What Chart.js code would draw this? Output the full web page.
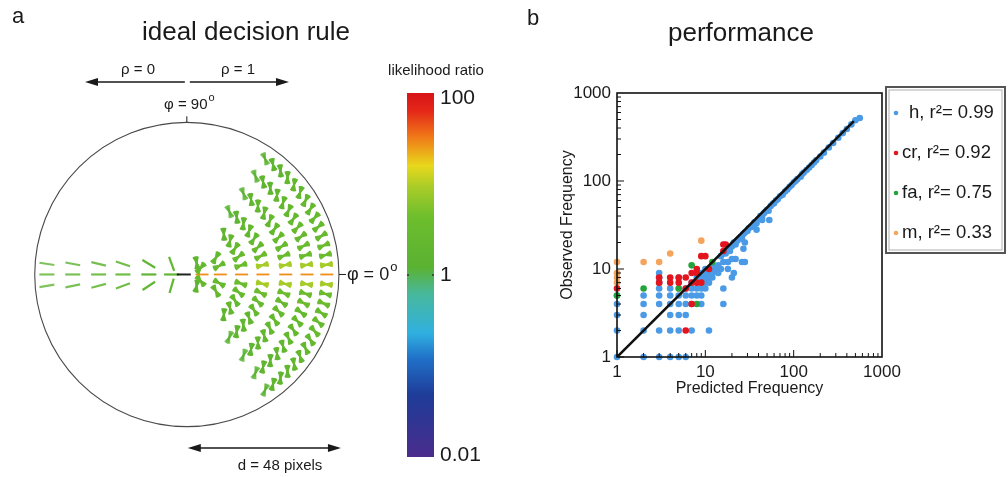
<!DOCTYPE html>
<html>
<head>
<meta charset="utf-8">
<script src="https://cdn.jsdelivr.net/npm/chart.js@4.4.1/dist/chart.umd.min.js"></script>
<style>
  html, body { margin: 0; padding: 0; background: #fff; }
  body { width: 1008px; height: 477px; position: relative; overflow: hidden; }
  #ruleChart { position: absolute; left: 0; top: 0; }
  #perfChart { position: absolute; left: 520px; top: 0; }
</style>
</head>
<body>
<canvas id="ruleChart" width="520" height="477"></canvas>
<canvas id="perfChart" width="488" height="477"></canvas>
<script>
const FONT = '"Liberation Sans", Arial, sans-serif';

// ---- panel a: ideal decision rule (distances in units of the circle radius) ----
const rightRingD = [0.10, 0.22, 0.36, 0.50, 0.65, 0.79, 0.92];
const rightRingStep = [25, 15, 9.5, 7, 5.5, 4.6, 4];   // degrees between bins
const rightRingSpan = [50, 40, 50, 56, 58, 58, 58];   // max |phi| in degrees
const phiBins = [0, 3, 8, 15, 25, 35, 45, 55];
const phiRatio = [28, 9, 3.5, 2.8, 2.5, 2.2, 1.8, 1.3];
const fanOffsets = [-22, -11, 0, 11, 22];             // orientation offsets around co-circular
const leftRingD = [0.10, 0.25, 0.42, 0.58, 0.75, 0.92];
const leftRowY = [-0.075, 0, 0.07];
const leftRatio = [2, 1.7, 1.55, 1.5, 1.45, 1.4];
const referenceEdge = [{ x: -0.02, y: 0 }];
const colorbarTicks = ['100', '1', '0.01'];

// colormap (jet-like), t = 0 at 0.01 .. 1 at 100
const cmapStops = [0, 0.17, 0.27, 0.34, 0.45, 0.52, 0.66, 0.74, 0.80, 0.88, 0.95, 1];
const cmapColors = [[74,44,140],[30,60,152],[32,112,200],[48,176,224],[72,184,154],[90,178,50],
                    [110,190,45],[168,204,40],[232,216,28],[240,120,24],[228,40,24],[216,20,24]];

// ---- panel b: performance ----
const decadeTicks = [1, 10, 100, 1000];
const hX = [1,2,3,4,5,6, 1,2,3,4,5,7,11, 1,2,4,5,6, 1,2,3,4,5,6,7,9,16, 1,2,3,4,5,6,7,8,9,
            3,4,6,7,8,9,10,16, 3,7,8,9,10,11, 3,5,8,9,10,11,12,20, 3,9,10,11,12,14,21,
            10,11,12,13,15,18, 12,14,16,18,20,22,26,28, 28,27,44,53,38,
            15,16,17,18,19,20,21,22,23,24,25,26,27,28,30,31,33,35,36,38,40,42,44,46,48,50,52,55,58,60,
            63,66,70,75,80,85,90,95,100,105,110,120,125,130,140,150,160,170,180,200,220,250,280,320,
            360,400,450,500,560];
const hY = [1,1,1,1,1,1, 2,2,2,2,2,2,2, 3,3,3,3,3, 4,4,4,4,4,4,4,4,4, 5,5,5,5,5,5,5,5,5,
            6,6,6,6,6,6,6,6, 7,7,7,7,7,7, 8,8,8,8,8,8,8,8, 9,9,9,9,9,9,9,
            10,10,10,10,10,10, 11,11,12,12,13,13,12,12, 20,17,36,36,28,
            14,15,15,17,16,18,20,19,21,22,23,22,25,26,27,29,30,31,34,33,37,40,39,43,45,47,46,52,55,56,
            60,62,67,70,76,80,86,90,96,100,105,112,120,125,133,142,152,162,172,190,210,240,270,310,
            350,390,440,490,520];
const crX = [1,3,3,4,4,5,5,6,6,6,7,7,7,8,8,8,9,9,10,11,16,16,17];
const crY = [6,7,8,7,8,7,8,2,6,8,4,7,9,7,9,10,7,14,14,10,16,19,19];
const faX = [1,2,5,7,8,12];
const faY = [5,6,6,11,4,12];
const mX = [1,1,1,1,2,3,4,9,3,5,8];
const mY = [7,8,9,12,12,12,15,21,7,6,9];
const diagX = [1, 480];
const diagY = [1, 480];
const seriesLabels = ['h, r\u00b2= 0.99', 'cr, r\u00b2= 0.92', 'fa, r\u00b2= 0.75', 'm, r\u00b2= 0.33'];

function cmap(t) {
  t = Math.max(0, Math.min(1, t));
  for (let i = 1; i < cmapStops.length; i++) {
    if (t <= cmapStops[i]) {
      const f = (t - cmapStops[i - 1]) / (cmapStops[i] - cmapStops[i - 1]);
      const a = cmapColors[i - 1], b = cmapColors[i];
      return a.map((v, j) => Math.round(v + (b[j] - v) * f));
    }
  }
  return cmapColors[cmapColors.length - 1];
}

function ratioColor(ratio) {
  const lr = Math.log10(ratio);
  const c = cmap((lr + 2) / 4);
  const a = Math.max(0.25, Math.min(1, 0.45 + 2.3 * lr));
  return `rgba(${c[0]},${c[1]},${c[2]},${a})`;
}

function lookupRatio(absPhi) {
  let k = 0;
  for (let i = 0; i < phiBins.length; i++) if (phiBins[i] <= absPhi + 0.01) k = i;
  return phiRatio[k];
}

// edge elements on the right (phi near 0)
const ruleRight = [];
rightRingD.forEach((d, k) => {
  const step = rightRingStep[k];
  const n = Math.floor(rightRingSpan[k] / step);
  for (let i = -n; i <= n; i++) {
    const phi = i * step;
    const rad = phi * Math.PI / 180;
    const ratio = lookupRatio(Math.abs(phi));
    const offs = i === 0 ? [0] : fanOffsets;
    offs.forEach(off => {
      ruleRight.push({ x: d * Math.cos(rad), y: d * Math.sin(rad), rot: -(2 * phi + off), ratio });
    });
  }
});

// edge elements on the left (phi near 180)
const ruleLeft = [];
leftRingD.forEach((d, k) => {
  leftRowY.forEach(yy => {
    const phi = Math.atan2(yy, -d) * 180 / Math.PI;
    ruleLeft.push({ x: -d, y: yy, rot: -(2 * phi), ratio: leftRatio[k] });
  });
});

function arrowHead(ctx, x, y, dir) {
  ctx.beginPath();
  ctx.moveTo(x, y);
  ctx.lineTo(x - dir * 13, y - 4);
  ctx.lineTo(x - dir * 13, y + 4);
  ctx.closePath();
  ctx.fill();
}

function degText(ctx, text, x, y, size, align) {
  ctx.font = `${size}px ${FONT}`;
  const w = ctx.measureText(text).width;
  ctx.font = `${Math.round(size * 0.7)}px ${FONT}`;
  const wo = ctx.measureText('o').width;
  const x0 = align === 'center' ? x - (w + wo) / 2 : x;
  ctx.textAlign = 'left';
  ctx.textBaseline = 'middle';
  ctx.font = `${size}px ${FONT}`;
  ctx.fillText(text, x0, y);
  ctx.font = `${Math.round(size * 0.7)}px ${FONT}`;
  ctx.fillText('o', x0 + w + 1, y - size * 0.45);
}

const ruleDecor = {
  id: 'ruleDecor',
  beforeDatasetsDraw(chart) {
    const { ctx, scales: { x, y } } = chart;
    const cx = x.getPixelForValue(0), cy = y.getPixelForValue(0);
    const R = x.getPixelForValue(1) - cx;
    ctx.save();
    ctx.strokeStyle = '#4a4a4a';
    ctx.lineWidth = 1.1;
    ctx.beginPath();
    ctx.arc(cx, cy, R, 0, Math.PI * 2);
    ctx.stroke();
    ctx.restore();
  },
  afterDraw(chart) {
    const { ctx, scales: { x, y } } = chart;
    const cx = x.getPixelForValue(0), cy = y.getPixelForValue(0);
    const R = x.getPixelForValue(1) - cx;
    ctx.save();
    ctx.fillStyle = '#1a1a1a';
    ctx.strokeStyle = '#1a1a1a';

    // panel letter and title
    ctx.textBaseline = 'middle';
    ctx.textAlign = 'left';
    ctx.font = `22px ${FONT}`;
    ctx.fillText('a', 12, 17);
    ctx.textAlign = 'center';
    ctx.font = `26px ${FONT}`;
    ctx.fillText('ideal decision rule', 246, 33);

    // rho arrows
    ctx.lineWidth = 1.3;
    ctx.beginPath();
    ctx.moveTo(cx - 2, 82); ctx.lineTo(88, 82);
    ctx.moveTo(cx + 3, 82); ctx.lineTo(285, 82);
    ctx.stroke();
    arrowHead(ctx, 85, 82, -1);
    arrowHead(ctx, 289, 82, 1);
    ctx.font = `15px ${FONT}`;
    ctx.fillText('\u03c1 = 0', 138, 70);
    ctx.fillText('\u03c1 = 1', 238, 70);

    // phi = 90 tick + label
    ctx.lineWidth = 1;
    ctx.beginPath();
    ctx.moveTo(cx, cy - R); ctx.lineTo(cx, cy - R - 6);
    ctx.stroke();
    degText(ctx, '\u03c6 = 90', cx + 2, 105, 15, 'center');

    // phi = 0 tick + label
    ctx.beginPath();
    ctx.moveTo(cx + R, cy); ctx.lineTo(cx + R + 7, cy);
    ctx.stroke();
    degText(ctx, '\u03c6 = 0', cx + R + 8, cy + 1, 18, 'left');

    // distance arrow
    ctx.lineWidth = 1.3;
    ctx.beginPath();
    ctx.moveTo(cx + 6, 448); ctx.lineTo(cx + R - 4, 448);
    ctx.stroke();
    arrowHead(ctx, cx + 1, 448, -1);
    arrowHead(ctx, cx + R + 2, 448, 1);
    ctx.textAlign = 'center';
    ctx.font = `15px ${FONT}`;
    ctx.fillText('d = 48 pixels', 280, 466);

    // colorbar
    const bx = 407, bw = 27, top = 93, bottom = 457;
    const grad = ctx.createLinearGradient(0, bottom, 0, top);
    cmapStops.forEach((s, i) => grad.addColorStop(s, `rgb(${cmapColors[i].join(',')})`));
    ctx.fillStyle = grad;
    ctx.fillRect(bx, top, bw, bottom - top);
    ctx.fillStyle = '#1a1a1a';
    ctx.font = `15px ${FONT}`;
    ctx.fillText('likelihood ratio', 436, 71);
    ctx.textAlign = 'left';
    ctx.font = `21px ${FONT}`;
    const tickY = [top + 5, (top + bottom) / 2, bottom - 2];
    colorbarTicks.forEach((t, i) => ctx.fillText(t, bx + bw + 6, tickY[i]));
    ctx.strokeStyle = '#333';
    ctx.lineWidth = 1.5;
    ctx.beginPath();
    ctx.moveTo(bx, tickY[1]); ctx.lineTo(bx + 2, tickY[1]);
    ctx.moveTo(bx + bw - 2, tickY[1]); ctx.lineTo(bx + bw, tickY[1]);
    ctx.stroke();
    ctx.restore();
  }
};

const segOptions = {
  pointStyle: 'line',
  pointBackgroundColor: 'rgba(0,0,0,0)',
  pointBorderColor: c => (c.raw ? ratioColor(c.raw.ratio) : '#5ab232'),
  pointRotation: c => (c.raw ? c.raw.rot : 0),
  clip: false
};

new Chart(document.getElementById('ruleChart'), {
  type: 'scatter',
  data: {
    datasets: [
      { ...segOptions, data: referenceEdge, pointRadius: 7, pointBorderWidth: 2, pointBorderColor: '#222' },
      { ...segOptions, data: ruleRight, pointRadius: 6.5, pointBorderWidth: 1.8 },
      { ...segOptions, data: ruleLeft, pointRadius: 7.5, pointBorderWidth: 2.2 }
    ]
  },
  options: {
    responsive: false,
    animation: false,
    events: [],
    layout: { padding: 0 },
    plugins: { legend: { display: false }, tooltip: { enabled: false } },
    scales: {
      x: { type: 'linear', display: false, min: -184 / 158, max: (520 - 184) / 158 },
      y: { type: 'linear', display: false, min: -(477 - 276) / 158, max: 276 / 158 }
    }
  },
  plugins: [ruleDecor]
});

// ---- panel b ----
const perfDecor = {
  id: 'perfDecor',
  afterDatasetsDraw(chart) {
    const { ctx, chartArea: a, scales: { x, y } } = chart;
    ctx.save();
    ctx.strokeStyle = '#111';
    ctx.lineWidth = 1;
    ctx.beginPath();
    [1, 10, 100].forEach(base => {
      for (let m = 1; m <= 9; m++) {
        const v = base * m;
        const len = m === 1 ? 7 : 4;
        const px = x.getPixelForValue(v);
        ctx.moveTo(px, a.bottom); ctx.lineTo(px, a.bottom - len);
        const py = y.getPixelForValue(v);
        ctx.moveTo(a.left, py); ctx.lineTo(a.left + len, py);
      }
    });
    ctx.stroke();
    ctx.lineWidth = 1.6;
    ctx.strokeRect(a.left, a.top, a.right - a.left, a.bottom - a.top);
    ctx.restore();
  },
  afterDraw(chart) {
    const { ctx } = chart;
    ctx.save();
    ctx.fillStyle = '#1a1a1a';
    ctx.textBaseline = 'middle';
    ctx.textAlign = 'left';
    ctx.font = `22px ${FONT}`;
    ctx.fillText('b', 7, 19);
    ctx.textAlign = 'center';
    ctx.font = `26px ${FONT}`;
    ctx.fillText('performance', 221, 34);

    // legend box
    const lx = 366, ly = 87, lw = 119, lh = 166;
    ctx.strokeStyle = '#555';
    ctx.lineWidth = 2;
    ctx.strokeRect(lx, ly, lw, lh);
    ctx.strokeStyle = '#b0b0b0';
    ctx.lineWidth = 1;
    ctx.strokeRect(lx + 3, ly + 3, lw - 6, lh - 6);
    ctx.textAlign = 'left';
    ctx.font = `18.5px ${FONT}`;
    const items = chart.data.datasets.filter(d => d.label);
    items.forEach((d, i) => {
      const iy = 113 + i * 40;
      ctx.fillStyle = d.backgroundColor;
      ctx.beginPath();
      ctx.arc(lx + 10, iy, 2.3, 0, Math.PI * 2);
      ctx.fill();
      ctx.fillStyle = '#1a1a1a';
      ctx.fillText(d.label, lx + (i === 0 ? 23 : 16), iy);
    });
    ctx.restore();
  }
};

const pts = (xs, ys) => xs.map((v, i) => ({ x: v, y: ys[i] }));
const dotOpts = { pointRadius: 3.3, pointBorderWidth: 0, pointHoverRadius: 3.3, clip: false };

new Chart(document.getElementById('perfChart'), {
  type: 'scatter',
  data: {
    datasets: [
      { label: seriesLabels[0], data: pts(hX, hY), backgroundColor: '#4a9ae6', ...dotOpts, order: 4 },
      { label: seriesLabels[1], data: pts(crX, crY), backgroundColor: '#e3141e', ...dotOpts, order: 2 },
      { label: seriesLabels[2], data: pts(faX, faY), backgroundColor: '#23a43a', ...dotOpts, order: 3 },
      { label: seriesLabels[3], data: pts(mX, mY), backgroundColor: '#f4a45c', ...dotOpts, order: 5 },
      { label: '', data: pts(diagX, diagY), showLine: true, borderColor: '#111', borderWidth: 2.6,
        pointRadius: 0, order: 1 }
    ]
  },
  options: {
    responsive: false,
    animation: false,
    events: [],
    layout: { padding: { left: 34, top: 93, right: 126, bottom: 75 } },
    plugins: { legend: { display: false }, tooltip: { enabled: false } },
    scales: {
      x: {
        type: 'logarithmic', min: 1, max: 1000,
        afterBuildTicks: s => { s.ticks = decadeTicks.map(v => ({ value: v })); },
        afterFit: s => { s.height = 45; },
        ticks: { callback: v => String(v), font: { family: FONT, size: 17 }, color: '#1a1a1a', padding: 5,
                 maxRotation: 0, autoSkip: false },
        grid: { display: false, drawTicks: false },
        border: { display: false },
        title: { display: true, text: 'Predicted Frequency', font: { family: FONT, size: 16 }, color: '#1a1a1a' }
      },
      y: {
        type: 'logarithmic', min: 1, max: 1000,
        afterBuildTicks: s => { s.ticks = decadeTicks.map(v => ({ value: v })); },
        afterFit: s => { s.width = 63; },
        ticks: { callback: v => String(v), font: { family: FONT, size: 17 }, color: '#1a1a1a', padding: 6,
                 autoSkip: false },
        grid: { display: false, drawTicks: false },
        border: { display: false },
        title: { display: true, text: 'Observed Frequency', font: { family: FONT, size: 16 }, color: '#1a1a1a' }
      }
    }
  },
  plugins: [perfDecor]
});
</script>
</body>
</html>
